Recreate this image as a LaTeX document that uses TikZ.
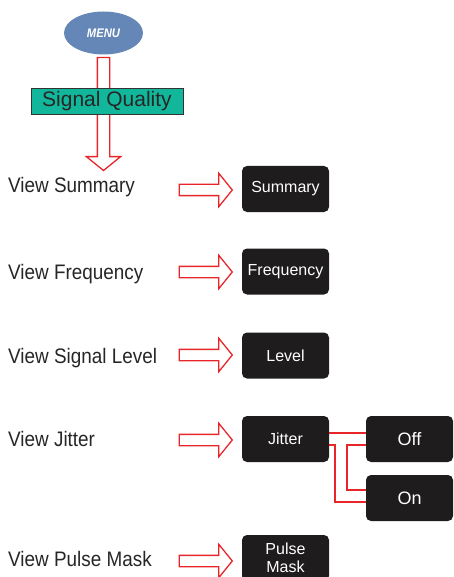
\documentclass[tikz,border=0pt]{standalone}
\usepackage{fontspec}
\setsansfont{Liberation Sans}
\newfontfamily\condfont{Liberation Sans}[FakeStretch=0.9]
\usetikzlibrary{shapes.arrows,shapes.geometric,calc}
\definecolor{arrowred}{HTML}{E8262A}
\definecolor{menublue}{HTML}{6587B7}
\definecolor{sqgreen}{HTML}{12B79B}
\definecolor{btnblack}{HTML}{1E1C1D}
\begin{document}
\begin{tikzpicture}[x=1pt,y=-1pt]
        \tikzstyle{every node}=[inner sep=0pt]
        \tikzstyle{button}=[rounded corners=5pt,fill=btnblack,text=white,minimum width=87pt,minimum height=46pt,font=\sffamily\fontsize{16}{18}\selectfont,align=center]
        \tikzstyle{view}=[anchor=base west,text=black!85,font=\condfont\fontsize{21}{22}\selectfont]
        \tikzstyle{bigarrow}=[single arrow,draw=arrowred,fill=white,line width=1.3pt,inner sep=5pt,single arrow head extend=11pt,single arrow tip angle=102]
        \useasboundingbox (0,0) rectangle (453,577);
        \clip (0,0) rectangle (453,577);

            % menu and first arrow
            \node (menu) at (103.5,33) [ellipse,fill=menublue,minimum width=79pt,minimum height=43pt,text=white,font=\condfont\bfseries\itshape\fontsize{12.5}{13}\selectfont] {MENU};
            \node (down) at (103.5,111.5) [bigarrow,shape border rotate=270,minimum height=113pt,inner sep=5.5pt] {};
            \node (sq) at (107,101) [draw=black!80,fill=sqgreen,minimum width=152pt,minimum height=26pt,font=\sffamily\fontsize{21}{22}\selectfont,text=black!85] {Signal Quality};

            % left column
            \node (vsum) at (8,193) [view] {View Summary};
            \node (vfreq) at (8,279) [view] {View Frequency};
            \node (vlev) at (8,363) [view] {View Signal Level};
            \node (vjit) at (8,446) [view] {View Jitter};
            \node (vpm) at (8,566) [view] {View Pulse Mask};

            % arrows
            \node (a1) at (203.5,190) [bigarrow,minimum height=53pt] {};
            \node (a2) at (203.5,272) [bigarrow,minimum height=53pt] {};
            \node (a3) at (203.5,355) [bigarrow,minimum height=53pt] {};
            \node (a4) at (203.5,440) [bigarrow,minimum height=53pt] {};
            \node (a5) at (203.5,561) [bigarrow,minimum height=53pt] {};

            % buttons
            \node (sum) at (285.5,189) [button] {Summary};
            \node (freq) at (285.5,271.5) [button] {Frequency};
            \node (lev) at (285.5,355.5) [button] {Level};
            \node (jit) at (285.5,439) [button] {Jitter};
            \node (pm) at (285.5,558) [button] {Pulse\\Mask};
            \node (off) at (409.5,439) [button,font=\sffamily\fontsize{18}{20}\selectfont] {Off};
            \node (on) at (409.5,498) [button,font=\sffamily\fontsize{18}{20}\selectfont] {On};

            \draw[arrowred,line width=1.3pt] ($(jit.east)+(0,-6)$) -- ($(off.west)+(0,-6)$)
            ($(jit.east)+(0,6)$) -- (335,445) -- (335,502) -- ($(on.west)+(0,4)$)
            ($(off.west)+(0,6)$) -- (347,445) -- (347,490) -- ($(on.west)+(0,-8)$);
        \end{tikzpicture}
\end{document}
